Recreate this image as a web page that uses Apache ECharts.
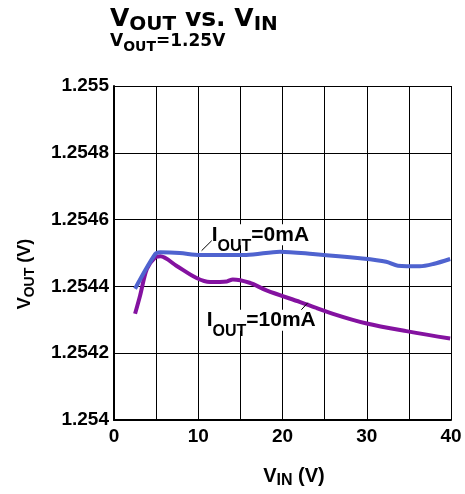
<!DOCTYPE html>
<html><head><meta charset="utf-8">
<script src="https://cdn.jsdelivr.net/npm/echarts@6/dist/echarts.min.js"></script>
<style>html,body{margin:0;padding:0;background:#fff}#c{width:465px;height:494px}</style>
</head><body><div id="c"></div>
<script>
var vin0 = [2.5, 4.9, 5.5, 7.8, 10.2, 15.7, 19.7, 23.6, 29.2, 32.3, 33.7, 36.3, 37.9, 39.9];
var vout0 = [1.254393, 1.254497, 1.254502, 1.2545, 1.254494, 1.254494, 1.254504, 1.254497, 1.254484, 1.254474, 1.254462, 1.25446, 1.254467, 1.254482];
var vin10 = [2.5, 3.1, 3.9, 4.9, 5.5, 7.4, 9.8, 11.4, 13.4, 14.1, 16.1, 18.1, 22.1, 26.0, 30.0, 34.7, 39.9];
var vout10 = [1.254318, 1.254373, 1.254452, 1.254487, 1.25449, 1.254462, 1.254425, 1.254413, 1.254415, 1.254421, 1.254411, 1.254388, 1.254353, 1.254318, 1.254289, 1.254266, 1.254244];
var yTicks = ['1.254', '1.2542', '1.2544', '1.2546', '1.2548', '1.255'];
var xTicks = ['0', '10', '20', '30', '40'];

var F = 'Liberation Sans, Arial, sans-serif';
var FD = 'DejaVu Sans, sans-serif';
function pairs(a, b) { return a.map(function (v, i) { return [v, b[i]]; }); }
function rich(font, M, S, d, weight) {
  return {
    a: { fontSize: M, fontWeight: weight, fontFamily: font, color: '#000', fill: '#000', verticalAlign: 'bottom' },
    s: { fontSize: S, fontWeight: weight, fontFamily: font, color: '#000', fill: '#000', verticalAlign: 'bottom', padding: [0, 0, -d, 0] }
  };
}

var chart = echarts.init(document.getElementById('c'));
chart.setOption({
  animation: false,
  title: [
    { left: 105, top: 2, text: '{a|V}{s|OUT}{a| vs. V}{s|IN}', textStyle: { rich: rich(FD, 25, 20, 2.5, 'bold') } },
    { left: 105, top: 28, text: '{a|V}{s|OUT}{a|=1.25V}', textStyle: { rich: rich(FD, 17, 14, 4, 'bold') } }
  ],
  grid: { left: 114, right: 14, top: 86, bottom: 72, containLabel: false },
  xAxis: {
    type: 'value', min: 0, max: 40, interval: 5,
    axisLine: { lineStyle: { color: '#000', width: 2 } },
    axisTick: { show: false },
    splitLine: { lineStyle: { color: '#000', width: 1 } },
    axisLabel: { color: '#000', fontSize: 19, fontWeight: 'bold', fontFamily: F, margin: 7,
      formatter: function (v) { return xTicks.indexOf(String(v)) >= 0 ? String(v) : ''; } },
    name: '{a|V}{s|IN}{a| (V)}', nameLocation: 'middle', nameGap: 46,
    nameTextStyle: { padding: [0, 0, 0, 23], rich: rich(F, 20, 16, 3, 'bold') }
  },
  yAxis: {
    type: 'value', min: 1.254, max: 1.255, interval: 0.0002,
    axisLine: { show: true, lineStyle: { color: '#000', width: 2 } },
    axisTick: { show: false },
    splitLine: { lineStyle: { color: '#000', width: 1 } },
    axisLabel: { color: '#000', fontSize: 19, fontWeight: 'bold', fontFamily: F, margin: 5,
      formatter: function (v) { var i = Math.round((v - 1.254) / 0.0002); return yTicks[i]; } },
    name: '{a|V}{s|OUT}{a| (V)}', nameLocation: 'middle', nameGap: 80, nameRotate: 90,
    nameTextStyle: { padding: [0, 42, 0, 0], rich: rich(F, 18, 14, 3.5, 'bold') }
  },
  series: [
    { type: 'line', data: pairs(vin0, vout0), smooth: 0.3, symbol: 'none', lineStyle: { color: '#4f63cf', width: 4 }, z: 3,
      markLine: { silent: true, symbol: 'none', label: { show: false }, lineStyle: { color: '#000', width: 1, type: 'solid' },
        data: [[{ coord: [10.4, 1.254507] }, { coord: [11.8, 1.254542] }]] } },
    { type: 'line', data: pairs(vin10, vout10), smooth: 0.3, symbol: 'none', lineStyle: { color: '#8412a0', width: 4 }, z: 2,
      markLine: { silent: true, symbol: 'none', label: { show: false }, lineStyle: { color: '#000', width: 1, type: 'solid' },
        data: [[{ coord: [21.8, 1.254318] }, { coord: [23.0, 1.254351] }]] } }
  ]
});

var p0 = chart.convertToPixel({ gridIndex: 0 }, [11.6, 1.254586]);
var p1 = chart.convertToPixel({ gridIndex: 0 }, [11.0, 1.254330]);
var lr = rich(F, 21, 16, 9, 'bold');
chart.setOption({
  graphic: [
    { type: 'text', x: p0[0], y: p0[1], z: 10, style: { text: '{a|I}{s|OUT}{a|=0mA}', rich: lr, verticalAlign: 'top', backgroundColor: '#fff' } },
    { type: 'text', x: p1[0], y: p1[1], z: 10, style: { text: '{a|I}{s|OUT}{a|=10mA}', rich: lr, verticalAlign: 'top', backgroundColor: '#fff' } }
  ]
});
</script></body></html>
